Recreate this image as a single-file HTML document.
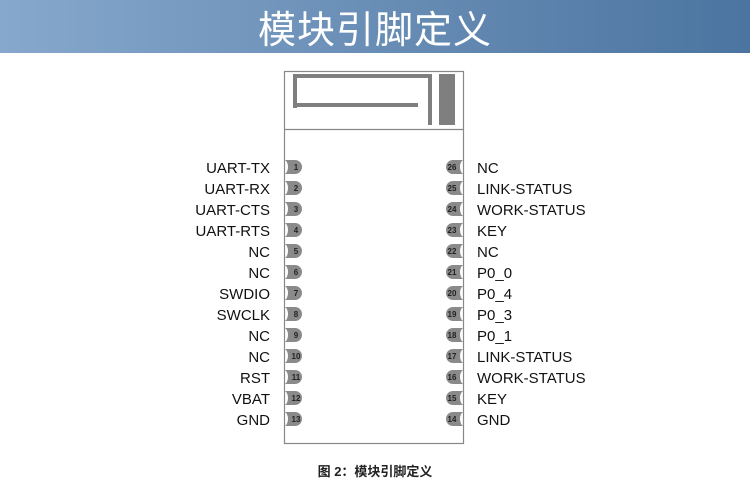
<!DOCTYPE html>
<html><head><meta charset="utf-8"><style>
html,body{margin:0;padding:0;background:#fff;}
body{width:750px;height:484px;overflow:hidden;position:relative;font-family:"Liberation Sans",Arial,sans-serif;}
.hdr{position:absolute;left:0;top:0;width:750px;height:53px;background:linear-gradient(90deg,#86a8cc 0%,#6f93ba 40%,#4b74a0 100%);}
.hdr span{position:absolute;left:0;width:750px;top:0px;line-height:54px;text-align:center;color:#fff;font-size:38px;font-family:"Noto Sans CJK SC","WenQuanYi Zen Hei",sans-serif;letter-spacing:1px;}
</style></head><body>
<div class="hdr"><span>模块引脚定义</span></div>
<svg width="750" height="484" style="position:absolute;left:0;top:0" xmlns="http://www.w3.org/2000/svg">
<defs>
<path id="pl" d="M284 0 h11 a7 7 0 0 1 0 14 h-11 a4 7 0 0 0 0 -14z" fill="#8a8a8a"/>
<path id="pr" d="M464 0 h-11 a7 7 0 0 0 0 14 h11 a4 7 0 0 1 0 -14z" fill="#8a8a8a"/>
</defs>
<rect x="284.5" y="71.5" width="179" height="372" fill="none" stroke="#888" stroke-width="1.2"/>
<line x1="284" y1="129.5" x2="464" y2="129.5" stroke="#888" stroke-width="1.2"/>
<g fill="#7f7f7f">
<rect x="293" y="74" width="139" height="4"/>
<rect x="293" y="74" width="4" height="34"/>
<rect x="293" y="103" width="125" height="4"/>
<rect x="428" y="74" width="4" height="51"/>
<rect x="439" y="74" width="16" height="51"/>
</g>
<use href="#pl" y="160"/><use href="#pl" y="181"/><use href="#pl" y="202"/><use href="#pl" y="223"/><use href="#pl" y="244"/><use href="#pl" y="265"/><use href="#pl" y="286"/><use href="#pl" y="307"/><use href="#pl" y="328"/><use href="#pl" y="349"/><use href="#pl" y="370"/><use href="#pl" y="391"/><use href="#pl" y="412"/>
<use href="#pr" y="160"/><use href="#pr" y="181"/><use href="#pr" y="202"/><use href="#pr" y="223"/><use href="#pr" y="244"/><use href="#pr" y="265"/><use href="#pr" y="286"/><use href="#pr" y="307"/><use href="#pr" y="328"/><use href="#pr" y="349"/><use href="#pr" y="370"/><use href="#pr" y="391"/><use href="#pr" y="412"/>
<g font-family="Liberation Sans,Arial,sans-serif" font-size="8" font-weight="bold" fill="#222" text-anchor="middle">
<text x="296" y="170">1</text><text x="296" y="191">2</text><text x="296" y="212">3</text><text x="296" y="233">4</text><text x="296" y="254">5</text><text x="296" y="275">6</text><text x="296" y="296">7</text><text x="296" y="317">8</text><text x="296" y="338">9</text><text x="296" y="359">10</text><text x="296" y="380">11</text><text x="296" y="401">12</text><text x="296" y="422">13</text>
<text x="452" y="170">26</text><text x="452" y="191">25</text><text x="452" y="212">24</text><text x="452" y="233">23</text><text x="452" y="254">22</text><text x="452" y="275">21</text><text x="452" y="296">20</text><text x="452" y="317">19</text><text x="452" y="338">18</text><text x="452" y="359">17</text><text x="452" y="380">16</text><text x="452" y="401">15</text><text x="452" y="422">14</text>
</g>
<g font-family="Liberation Sans,Arial,sans-serif" font-size="15" fill="#111">
<g text-anchor="end">
<text x="270" y="173">UART-TX</text><text x="270" y="194">UART-RX</text><text x="270" y="215">UART-CTS</text><text x="270" y="236">UART-RTS</text><text x="270" y="257">NC</text><text x="270" y="278">NC</text><text x="270" y="299">SWDIO</text><text x="270" y="320">SWCLK</text><text x="270" y="341">NC</text><text x="270" y="362">NC</text><text x="270" y="383">RST</text><text x="270" y="404">VBAT</text><text x="270" y="425">GND</text>
</g>
<text x="477" y="173">NC</text><text x="477" y="194">LINK-STATUS</text><text x="477" y="215">WORK-STATUS</text><text x="477" y="236">KEY</text><text x="477" y="257">NC</text><text x="477" y="278">P0_0</text><text x="477" y="299">P0_4</text><text x="477" y="320">P0_3</text><text x="477" y="341">P0_1</text><text x="477" y="362">LINK-STATUS</text><text x="477" y="383">WORK-STATUS</text><text x="477" y="404">KEY</text><text x="477" y="425">GND</text>
</g>
<text x="375" y="476" text-anchor="middle" font-size="13" font-weight="bold" fill="#222" font-family="Liberation Sans,'Noto Sans CJK SC',sans-serif">图 2：模块引脚定义</text>
</svg>
</body></html>
